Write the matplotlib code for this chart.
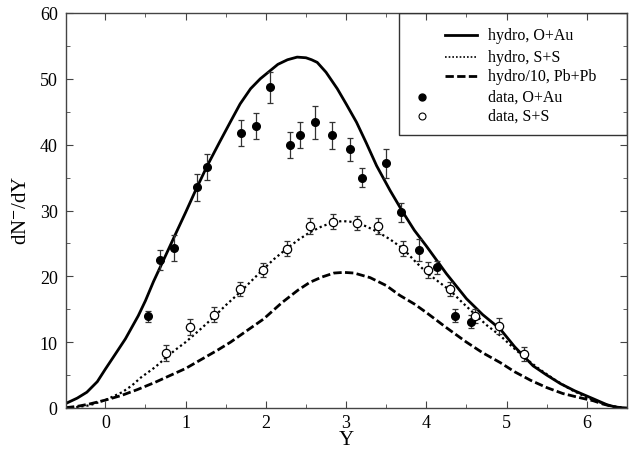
import matplotlib
matplotlib.use("Agg")
import matplotlib.pyplot as plt
from matplotlib.lines import Line2D
from matplotlib.patches import Rectangle
from matplotlib.ticker import MultipleLocator

plt.rcParams['font.family'] = ['Liberation Serif', 'DejaVu Serif']
plt.rcParams['mathtext.fontset'] = 'stix'

# --- hydro curves ---
oau_y = [-0.49, -0.35, -0.23, -0.1, 0.0, 0.12, 0.25, 0.41, 0.5, 0.6, 0.73, 0.87, 1.0,
         1.13, 1.27, 1.42, 1.56, 1.68, 1.81, 1.93, 2.05, 2.15, 2.27, 2.39, 2.5, 2.57,
         2.64, 2.75, 2.89, 3.0, 3.13, 3.25, 3.38, 3.55, 3.71, 3.85, 4.0, 4.25, 4.5,
         4.7, 4.92, 5.1, 5.33, 5.5, 5.67, 5.85, 6.08, 6.25, 6.37, 6.5]
oau_v = [0.7, 1.5, 2.4, 4.0, 5.9, 8.1, 10.5, 14.0, 16.3, 19.2, 22.6, 26.3, 29.7,
         33.2, 36.8, 40.3, 43.5, 46.2, 48.5, 50.0, 51.2, 52.2, 52.9, 53.3, 53.2, 52.9,
         52.5, 51.0, 48.5, 46.2, 43.4, 40.3, 36.8, 33.0, 29.7, 27.0, 24.6, 20.4, 16.6,
         14.2, 12.0, 9.3, 6.4, 5.0, 3.7, 2.6, 1.4, 0.5, 0.1, 0.0]

ss_y = [-0.49, -0.35, -0.2, 0.0, 0.21, 0.33, 0.44, 0.62, 0.76, 0.88, 1.0, 1.17, 1.35,
        1.5, 1.68, 1.82, 1.97, 2.1, 2.26, 2.4, 2.55, 2.7, 2.84, 2.95, 3.05, 3.13, 3.25,
        3.4, 3.55, 3.71, 3.85, 4.0, 4.15, 4.3, 4.45, 4.6, 4.75, 4.92, 5.08, 5.25, 5.42,
        5.6, 5.8, 6.0, 6.15, 6.3, 6.45]
ss_v = [0.05, 0.15, 0.4, 1.2, 2.4, 3.4, 4.6, 6.2, 7.7, 8.9, 10.0, 11.8, 13.8,
        15.6, 17.6, 19.3, 21.1, 22.6, 24.2, 25.5, 26.7, 27.6, 28.2, 28.4, 28.3, 28.1, 27.6,
        26.7, 25.6, 24.2, 22.4, 20.6, 19.2, 17.8, 16.0, 14.3, 12.6, 11.0, 9.2, 7.4, 5.8,
        4.3, 2.8, 1.6, 0.9, 0.3, 0.05]

pb_y = [-0.49, -0.35, -0.2, 0.0, 0.2, 0.4, 0.62, 0.8, 1.0, 1.2, 1.4, 1.56, 1.77, 1.97,
        2.2, 2.4, 2.55, 2.7, 2.85, 2.97, 3.1, 3.3, 3.5, 3.67, 3.85, 4.0, 4.25, 4.5, 4.7,
        4.92, 5.1, 5.3, 5.5, 5.7, 5.9, 6.08, 6.2, 6.33, 6.45]
pb_v = [0.05, 0.25, 0.6, 1.2, 1.9, 2.8, 3.9, 4.9, 6.0, 7.4, 8.8, 10.0, 11.8, 13.5,
        16.0, 17.9, 19.1, 19.9, 20.5, 20.6, 20.5, 19.8, 18.6, 17.1, 15.8, 14.5, 12.2, 10.0, 8.4,
        6.9, 5.5, 4.2, 3.1, 2.2, 1.6, 1.1, 0.6, 0.2, 0.02]

# --- data points ---
doau_y = [0.53, 0.68, 0.85, 1.14, 1.27, 1.69, 1.88, 2.05, 2.30, 2.43, 2.61, 2.83, 3.05,
          3.20, 3.50, 3.69, 3.91, 4.13, 4.36, 4.56]
doau_v = [13.9, 22.5, 24.3, 33.5, 36.6, 41.8, 42.8, 48.7, 40.0, 41.5, 43.4, 41.4, 39.3,
          35.0, 37.2, 29.7, 24.0, 21.4, 14.0, 13.1]
doau_e = [0.9, 1.5, 2.0, 2.0, 2.0, 2.0, 2.0, 2.4, 1.95, 2.0, 2.5, 2.0, 1.75,
          1.5, 2.2, 1.5, 1.7, 1.0, 1.0, 1.0]

dss_y = [0.76, 1.06, 1.36, 1.68, 1.96, 2.26, 2.55, 2.84, 3.13, 3.40, 3.71, 4.02, 4.30,
         4.61, 4.91, 5.22]
dss_v = [8.3, 12.3, 14.2, 18.1, 21.0, 24.2, 27.7, 28.3, 28.1, 27.6, 24.2, 21.0, 18.1,
         14.0, 12.4, 8.2]
dss_e = [1.2, 1.2, 1.1, 1.1, 1.1, 1.1, 1.2, 1.1, 1.1, 1.2, 1.1, 1.2, 1.1, 1.1, 1.2, 1.1]

labels = ['hydro, O+Au', 'hydro, S+S', 'hydro/10, Pb+Pb', 'data, O+Au', 'data, S+S']

fig = plt.figure(figsize=(6.39, 4.52), dpi=100)
ax = fig.add_axes([66/639, 1-409/452, 561/639, 395/452])

ax.plot(oau_y, oau_v, color='black', lw=2.0, solid_joinstyle='round')
ax.plot(ss_y, ss_v, color='black', lw=1.6, linestyle=(0, (1, 1.3)))
ax.plot(pb_y, pb_v, color='black', lw=2.0, linestyle=(0, (3, 1.2)))

ax.errorbar(doau_y, doau_v, yerr=doau_e, fmt='o', color='black', ms=5.5,
            ecolor='#333333', elinewidth=0.9, capsize=2.5, capthick=0.9)
ax.errorbar(dss_y, dss_v, yerr=dss_e, fmt='o', mfc='white', mec='black', mew=0.9, ms=6,
            ecolor='#333333', elinewidth=0.9, capsize=2.5, capthick=0.9)

ax.set_xlim(-0.49, 6.5)
ax.set_ylim(0, 60)
ax.xaxis.set_major_locator(MultipleLocator(1))
ax.xaxis.set_minor_locator(MultipleLocator(0.5))
ax.yaxis.set_major_locator(MultipleLocator(10))
ax.yaxis.set_minor_locator(MultipleLocator(5))
ax.tick_params(which='both', direction='in', top=True, right=True, labelsize=13,
               color='#444444')
ax.tick_params(which='major', length=5, pad=6)
ax.tick_params(axis='x', which='major', pad=4)
ax.tick_params(which='minor', length=3)
for s in ax.spines.values():
    s.set_linewidth(1.0)
    s.set_color('#444444')

def fx(px):
    return (px - 66) / 561
def fy(py):
    return (409 - py) / 395

ax.set_xlabel('Y', fontsize=15)
ax.xaxis.label.set_va('center')
ax.xaxis.set_label_coords(0.5, fy(441))
ax.set_ylabel(r'dN$^{-}$/dY', fontsize=15)
ax.yaxis.label.set_va('center')
ax.yaxis.set_label_coords(fx(21), fy(210))

# legend box (top-right, flush with frame)
ax.add_patch(Rectangle((fx(399), fy(136)), 1 - fx(399), 1 - fy(136),
                       transform=ax.transAxes, fill=False, edgecolor='#333333',
                       lw=1.0, zorder=5))
rows = [36, 58, 77, 98, 117]
styles = [dict(lw=2.0, linestyle='-'), dict(lw=1.2, linestyle=(0, (1, 1.2))),
          dict(lw=2.0, linestyle=(0, (3, 1.2)))]
for i in range(3):
    ax.add_line(Line2D([fx(445), fx(477)], [fy(rows[i]), fy(rows[i])],
                       transform=ax.transAxes, color='black', **styles[i]))
ax.add_line(Line2D([fx(422)], [fy(rows[3])], transform=ax.transAxes, marker='o',
                   color='black', ms=5, linestyle='none'))
ax.add_line(Line2D([fx(422)], [fy(rows[4])], transform=ax.transAxes, marker='o',
                   mfc='white', mec='black', mew=0.8, ms=5, linestyle='none'))
for i, lab in enumerate(labels):
    ax.text(fx(488), fy(rows[i]), lab, transform=ax.transAxes, fontsize=11.5,
            va='center', ha='left')

fig.savefig('out.png', dpi=100)
